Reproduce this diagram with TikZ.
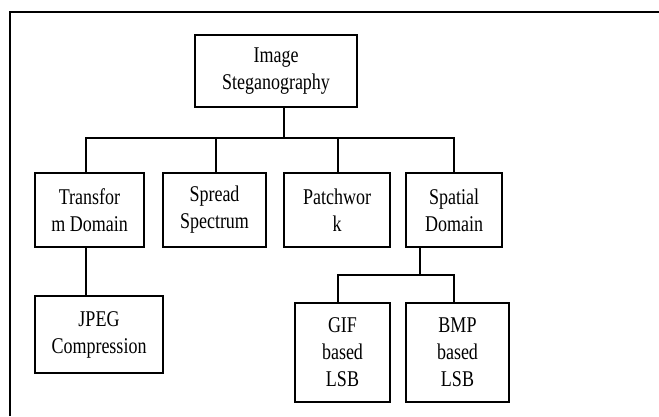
\documentclass[tikz,border=0pt]{standalone}
\usepackage{fontspec}
\setmainfont{Liberation Serif}[FakeStretch=0.8]
\usepackage{tikz}
\usetikzlibrary{positioning}

\begin{document}
\begin{tikzpicture}[x=1pt, y=-1pt,
  box/.style={draw, line width=2pt, rectangle, align=center, inner sep=0pt,
    font=\fontsize{22.5}{27}\selectfont},
  link/.style={line width=1.7pt}]
\useasboundingbox (0,0) rectangle (659,416);
\draw[line width=2pt] (10,416) -- (10,12) -- (659,12);

\node[box, minimum width=162pt, minimum height=72pt] (root) at (276,71) {Image\\Steganography};

\node[box, minimum width=109pt, minimum height=74pt] (trans) at (89.5,210) {Transfor\\m Domain};
\node[box, minimum width=103pt, minimum height=74pt] (spread) at (214.5,210) {Spread\\Spectrum};
\node[box, minimum width=106pt, minimum height=74pt] (patch) at (337,210) {Patchwor\\k};
\node[box, minimum width=96pt, minimum height=74pt] (spatial) at (454,210) {Spatial\\Domain};

\node[box, minimum width=128pt, minimum height=77pt] (jpeg) at (99,334.5) {JPEG\\Compression};
\node[box, minimum width=95pt, minimum height=99pt] (gif) at (342.5,352.5) {GIF\\based\\LSB};
\node[box, minimum width=103pt, minimum height=99pt] (bmp) at (457.5,352.5) {BMP\\based\\LSB};

\coordinate (bus) at (284,138);
\coordinate (lsb) at (420,275);

\draw[link] ([xshift=8pt]root.south) -- (bus);
\draw[link] ([xshift=-3.5pt]trans.north) |- (bus) -| (spatial.north);
\draw[link] ([xshift=1.5pt]spread.north) |- (bus);
\draw[link] ([xshift=1pt]patch.north) |- (bus);

\draw[link] ([xshift=-3.5pt]trans.south) -- ([xshift=-3.5pt]trans.south |- jpeg.north);

\draw[link] ([xshift=-34pt]spatial.south) -- (lsb);
\draw[link] ([xshift=-4.5pt]gif.north) |- (lsb) -| ([xshift=-3.5pt]bmp.north);
\end{tikzpicture}
\end{document}
